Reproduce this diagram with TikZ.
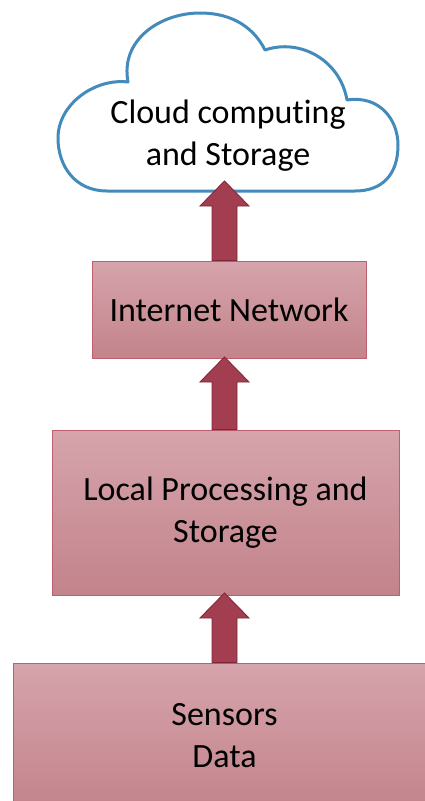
\documentclass[tikz,border=0pt]{standalone}
\usepackage{fontspec}
\setmainfont{Carlito}[Ligatures={NoCommon}]
\usetikzlibrary{calc}
\definecolor{cloudblue}{RGB}{66,139,186}
\definecolor{boxtop}{RGB}{214,164,172}
\definecolor{boxbot}{RGB}{195,131,139}
\definecolor{boxline}{RGB}{190,95,110}
\definecolor{arrfill}{RGB}{163,61,80}
\definecolor{arrline}{RGB}{128,40,58}
\tikzset{
  stagebox/.style={draw=boxline, line width=0.9pt, top color=boxtop, bottom color=boxbot,
    inner sep=0pt, align=center, font=\fontsize{34}{42}\selectfont},
  blockarr/.style={fill=arrfill, draw=arrline, line width=0.9pt, line join=miter},
  cloudline/.style={draw=cloudblue, line width=3pt, fill=white, line join=round}
}
\newcommand\myblockarrow[2]{% #1 = source node, #2 = tip coordinate
  \filldraw[blockarr]
    ($(ax |- #1.north)+(-12.5,0)$) --
    ($(ax |- #2)+(-12.5,25)$) --
    ($(ax |- #2)+(-24.5,25)$) --
    (ax |- #2) --
    ($(ax |- #2)+(24.5,25)$) --
    ($(ax |- #2)+(12.5,25)$) --
    ($(ax |- #1.north)+(12.5,0)$) -- cycle;}
\begin{document}
\begin{tikzpicture}[x=1pt,y=-1pt]
\useasboundingbox (0,0) rectangle (425,801);
% cloud
\path[cloudline]
  (107,191) .. controls (75,191) and (58,166) .. (58,138)
  .. controls (58,104) and (95,78) .. (128,82)
  .. controls (120,40) and (160,13) .. (200,13)
  .. controls (235,13) and (255,30) .. (265,50)
  .. controls (300,38) and (340,60) .. (347,100)
  .. controls (380,95) and (398,120) .. (398,145)
  .. controls (398,175) and (382,191) .. (355,191)
  -- cycle;
\node[align=center, inner sep=0pt, font=\fontsize{34}{42}\selectfont] (cloud) at (228,136) {Cloud computing\\and Storage};
% boxes
\node[stagebox, minimum width=274pt, minimum height=97pt] (inet) at (229,309.5) {Internet Network};
\node[stagebox, minimum width=347pt, minimum height=165pt] (lp) at (225.5,512.5) {Local Processing and\\Storage};
\node[stagebox, minimum width=423pt, minimum height=146pt] (sens) at (224.5,736) {Sensors\\Data};
% arrow axis and tips
\coordinate (ax) at (224.5,0);
\coordinate (t1) at (224.5,181);
\coordinate (t2) at (224.5,357);
\coordinate (t3) at (224.5,593);
\myblockarrow{inet}{t1}
\myblockarrow{lp}{t2}
\myblockarrow{sens}{t3}
\end{tikzpicture}
\end{document}
